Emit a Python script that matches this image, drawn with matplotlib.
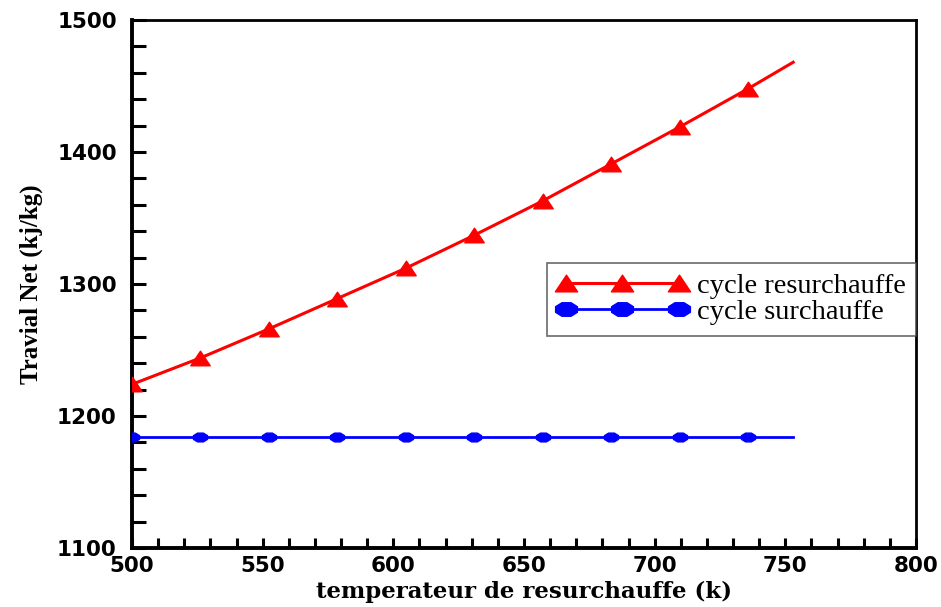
import numpy as np
import matplotlib
matplotlib.use("Agg")
import matplotlib.pyplot as plt
from matplotlib.path import Path
from matplotlib.lines import Line2D
from matplotlib.ticker import MultipleLocator

# Reheat temperature (K) and net work (kJ/kg)
temperature = [500, 526.2, 552.4, 578.6, 604.8, 631.0, 657.2, 683.4, 709.6, 735.8, 753]
travail_resurchauffe = [1224, 1244, 1266, 1289, 1312, 1337, 1363, 1391, 1419, 1448, 1468]
travail_surchauffe = [1184, 1184, 1184, 1184, 1184, 1184, 1184, 1184, 1184, 1184, 1184]
# the last sample only closes the line (no marker)
n_markers = 10

series_labels = ["cycle resurchauffe", "cycle surchauffe"]
x_label = "temperateur de resurchauffe (k)"
y_label = "Travial Net (kj/kg)"

# wide triangle and flattened disc markers
tri = Path([(0, 0.75), (-1, -0.75), (1, -0.75), (0, 0.75)],
           [Path.MOVETO, Path.LINETO, Path.LINETO, Path.CLOSEPOLY])
t = np.linspace(0, 2 * np.pi, 9)[:-1] + np.pi / 8
ell = Path(np.column_stack([np.cos(t), 0.62 * np.sin(t)]).tolist() + [[1, 0]],
           [Path.MOVETO] + [Path.LINETO] * 7 + [Path.CLOSEPOLY])

fig = plt.figure(figsize=(9.41, 6.07), dpi=100)
ax = fig.add_axes([132 / 941, 1 - 548 / 607, 784 / 941, 528 / 607])

ax.plot(temperature, travail_resurchauffe, color="#ff0000", lw=2.2,
        marker=tri, markersize=14, markevery=list(range(n_markers)), zorder=3)
ax.plot(temperature, travail_surchauffe, color="#0000ff", lw=2.0,
        marker=ell, markersize=11, markevery=list(range(n_markers)), zorder=3)

ax.set_xlim(500, 800)
ax.set_ylim(1100, 1500)
ax.xaxis.set_major_locator(MultipleLocator(50))
ax.xaxis.set_minor_locator(MultipleLocator(10))
ax.yaxis.set_major_locator(MultipleLocator(100))
ax.yaxis.set_minor_locator(MultipleLocator(20))

ax.tick_params(axis="x", which="both", direction="in", length=7.5, width=2.2,
               top=False, pad=5.5)
ax.tick_params(axis="y", which="both", direction="in", length=10, width=2.2,
               right=False, pad=11)
for lab in ax.get_xticklabels() + ax.get_yticklabels():
    lab.set_fontfamily("DejaVu Sans")
    lab.set_fontweight("bold")
    lab.set_fontsize(15.5)

for side in ["left", "bottom"]:
    ax.spines[side].set_linewidth(2.8)
for side in ["top", "right"]:
    ax.spines[side].set_linewidth(2.0)

ax.set_xlabel(x_label, family="DejaVu Serif", fontweight="bold",
              fontsize=16.5)
ax.xaxis.set_label_coords(0.5, -33 / 528, transform=ax.transAxes)
ax.xaxis.label.set_verticalalignment("top")
ax.set_ylabel(y_label, family="Liberation Serif", fontweight="bold",
              fontsize=18, labelpad=10)

handles = [
    Line2D([], [], color="#ff0000", lw=2.2, marker=tri, markersize=16),
    Line2D([], [], color="#0000ff", lw=2.0, marker=ell, markersize=17),
]
leg = ax.legend(handles, series_labels, loc="upper right",
                bbox_to_anchor=(1.0, 0.540),
                numpoints=3, handlelength=4.56, handletextpad=0.33,
                prop={"family": "Liberation Serif", "size": 20.5},
                frameon=True, fancybox=False, borderaxespad=0,
                borderpad=0.37, labelspacing=0.0)
leg.get_frame().set_edgecolor("#444444")
leg.get_frame().set_linewidth(1.2)

fig.savefig("out.png", dpi=100)
